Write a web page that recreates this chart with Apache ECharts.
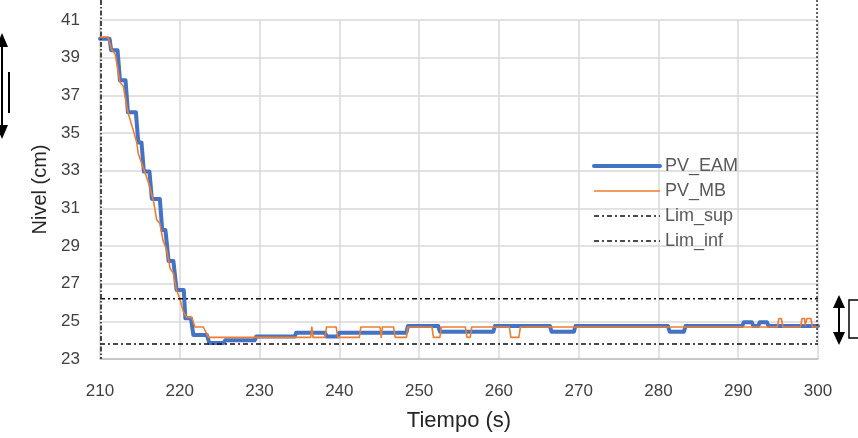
<!DOCTYPE html>
<html>
<head>
<meta charset="utf-8">
<script src="https://cdn.jsdelivr.net/npm/echarts@6/dist/echarts.min.js"></script>
<style>
html,body{margin:0;padding:0;background:#fff;}
#c{width:858px;height:438px;}
</style>
</head>
<body>
<div id="c"></div>
<script>
// ---- data ----
var seriesNames = ['PV_EAM', 'PV_MB', 'Lim_sup', 'Lim_inf'];
var xTicks = [210, 220, 230, 240, 250, 260, 270, 280, 290, 300];
var yTicks = [23, 25, 27, 29, 31, 33, 35, 37, 39, 41];

// PV_EAM: time (s) and level (cm)
var eamT = [210, 211.2, 211.4, 212.2, 212.5, 213.2, 213.5, 214.5, 214.8, 215.2, 215.5, 216.2, 216.5, 217.5, 217.8, 218.2, 218.6, 219.2, 219.6, 220.5, 220.7, 221.4, 221.7, 223.4, 223.7, 225.5, 225.7, 229.4, 229.6, 234.4, 234.6, 238.2, 238.4, 239.8, 240.0, 248.4, 248.6, 252.4, 252.6, 259.3, 259.5, 266.4, 266.6, 269.4, 269.6, 281.2, 281.4, 283.2, 283.4, 290.5, 290.7, 291.7, 291.9, 292.5, 292.7, 293.6, 293.8, 300];
var eamV = [40.0, 40.0, 39.4, 39.4, 37.8, 37.8, 36.1, 36.1, 34.5, 34.5, 32.95, 32.95, 31.5, 31.5, 29.85, 29.85, 28.2, 28.2, 26.66, 26.66, 25.16, 25.16, 24.27, 24.27, 23.85, 23.85, 24.0, 24.0, 24.2, 24.2, 24.4, 24.4, 24.2, 24.2, 24.4, 24.4, 24.75, 24.75, 24.45, 24.45, 24.75, 24.75, 24.45, 24.45, 24.75, 24.75, 24.45, 24.45, 24.75, 24.75, 24.95, 24.95, 24.75, 24.75, 24.95, 24.95, 24.75, 24.75];

// PV_MB: time (s) and level (cm)
var mbT = [210, 210.4, 211.0, 211.5, 211.9, 212.5, 212.9, 213.5, 214.2, 214.6, 214.8, 215.6, 216.05, 216.7, 217.1, 217.5, 217.9, 218.35, 218.8, 219.2, 219.6, 220.0, 220.45, 220.9, 221.5, 221.9, 222.95, 223.6, 236.4, 236.55, 236.7, 238.2, 238.4, 239.6, 239.8, 242.5, 242.7, 245.1, 245.25, 245.4, 246.8, 247.0, 248.4, 248.6, 251.6, 251.8, 252.6, 252.8, 255.8, 256.0, 256.4, 256.6, 261.3, 261.5, 262.5, 262.7, 294.9, 295.1, 295.4, 295.6, 297.8, 298.0, 298.3, 298.4, 298.6, 299.1, 299.3, 300];
var mbV = [40.03, 40.1, 40.1, 39.4, 39.2, 37.7, 37.5, 36.1, 35.1, 34.5, 33.9, 32.95, 32.4, 31.4, 30.4, 30.2, 29.3, 28.8, 27.8, 27.55, 26.66, 26.2, 25.5, 25.2, 25.2, 24.7, 24.7, 24.15, 24.15, 24.7, 24.15, 24.15, 24.7, 24.7, 24.15, 24.15, 24.7, 24.7, 24.15, 24.7, 24.7, 24.15, 24.15, 24.7, 24.7, 24.15, 24.15, 24.7, 24.7, 24.15, 24.15, 24.7, 24.7, 24.15, 24.15, 24.7, 24.7, 25.15, 25.15, 24.7, 24.7, 25.15, 25.15, 24.8, 25.15, 25.15, 24.7, 24.7];

// limits
var limT = [210, 300];
var limSup = [26.2, 26.2];
var limInf = [23.8, 23.8];

// marker lines (vertical)
var markerT = [210, 300];

function pairs(t, v) { return t.map(function (x, i) { return [x, v[i]]; }); }

var FONT = '"Liberation Sans", Arial, sans-serif';
var chart = echarts.init(document.getElementById('c'), null, {renderer: 'canvas'});

var option = {
  animation: false,
  backgroundColor: '#ffffff',
  textStyle: {fontFamily: FONT},
  grid: {left: 100, right: 40, top: 20, bottom: 79, containLabel: false},
  legend: {
    orient: 'vertical',
    left: 587,
    top: 152,
    itemWidth: 66,
    itemHeight: 18,
    itemGap: 7,
    itemStyle: {opacity: 0},
    lineStyle: {width: 'inherit'},
    textStyle: {color: '#595959', fontSize: 18, fontFamily: FONT},
    data: seriesNames
  },
  xAxis: {
    type: 'value',
    min: xTicks[0], max: xTicks[xTicks.length - 1], interval: 10,
    name: 'Tiempo (s)', nameLocation: 'middle', nameGap: 51,
    nameTextStyle: {fontSize: 22, color: '#262626', fontFamily: FONT},
    axisLine: {show: true, lineStyle: {color: '#bfbfbf', width: 1.5}},
    axisTick: {show: false},
    axisLabel: {fontSize: 17, color: '#404040', margin: 24, fontFamily: FONT},
    splitLine: {show: true, lineStyle: {color: '#d9d9d9', width: 1.5}}
  },
  yAxis: {
    type: 'value',
    min: yTicks[0], max: yTicks[yTicks.length - 1], interval: 2,
    name: 'Nivel (cm)', nameLocation: 'middle', nameGap: 50,
    nameTextStyle: {fontSize: 20, color: '#262626', fontFamily: FONT},
    axisLine: {show: false},
    axisTick: {show: false},
    axisLabel: {fontSize: 17, color: '#404040', margin: 20, fontFamily: FONT},
    splitLine: {show: true, lineStyle: {color: '#d9d9d9', width: 1.5}}
  },
  series: [
    {
      name: seriesNames[0], type: 'line', symbol: 'none', z: 3,
      data: pairs(eamT, eamV),
      itemStyle: {color: '#4472C4'},
      lineStyle: {color: '#4472C4', width: 4, join: 'round', cap: 'round'}
    },
    {
      name: seriesNames[1], type: 'line', symbol: 'none', z: 4,
      data: pairs(mbT, mbV),
      itemStyle: {color: '#ED7D31'},
      lineStyle: {color: '#ED7D31', width: 1.6, join: 'round'}
    },
    {
      name: seriesNames[2], type: 'line', symbol: 'none', z: 5,
      data: pairs(limT, limSup),
      itemStyle: {color: '#000000'},
      lineStyle: {color: '#111111', width: 1.6, type: [5, 3, 2, 3]}
    },
    {
      name: seriesNames[3], type: 'line', symbol: 'none', z: 5,
      data: pairs(limT, limInf),
      itemStyle: {color: '#000000'},
      lineStyle: {color: '#111111', width: 1.6, type: [5, 3, 2, 3]}
    }
  ]
};
chart.setOption(option);

// vertical marker lines (positions from the axis scale) and side decorations
var pTop = chart.convertToPixel({gridIndex: 0}, [markerT[0], yTicks[yTicks.length - 1]]);
var pBot = chart.convertToPixel({gridIndex: 0}, [markerT[0], yTicks[0]]);
var pR = chart.convertToPixel({gridIndex: 0}, [markerT[1], limInf[0]]);
var graphics = [
  {type: 'line', z: 10, shape: {x1: pTop[0] + 1, y1: 0, x2: pBot[0] + 1, y2: pBot[1]},
   style: {stroke: '#333', lineWidth: 1.8, lineDash: [5, 2, 1.5, 2]}},
  {type: 'line', z: 10, shape: {x1: pR[0] - 1, y1: 0, x2: pR[0] - 1, y2: pR[1]},
   style: {stroke: '#333', lineWidth: 1.5, lineDash: [2, 2]}},
  // left double arrow
  {type: 'line', shape: {x1: 2, y1: 40, x2: 2, y2: 130}, style: {stroke: '#000', lineWidth: 2}},
  {type: 'polygon', shape: {points: [[2, 33], [-4, 47], [8, 47]]}, style: {fill: '#000'}},
  {type: 'polygon', shape: {points: [[2, 139], [-4, 125], [8, 125]]}, style: {fill: '#000'}},
  {type: 'line', shape: {x1: 9, y1: 72, x2: 9, y2: 113}, style: {stroke: '#000', lineWidth: 2}},
  // right double arrow and box
  {type: 'line', shape: {x1: 839, y1: 302, x2: 839, y2: 338}, style: {stroke: '#000', lineWidth: 2}},
  {type: 'polygon', shape: {points: [[839, 295], [833, 308], [845, 308]]}, style: {fill: '#000'}},
  {type: 'polygon', shape: {points: [[839, 345], [833, 332], [845, 332]]}, style: {fill: '#000'}},
  {type: 'polyline', shape: {points: [[862, 300], [849, 300], [849, 338], [862, 338]]}, style: {stroke: '#000', lineWidth: 1.5, fill: null}}
];
chart.setOption({graphic: graphics});
</script>
</body>
</html>
